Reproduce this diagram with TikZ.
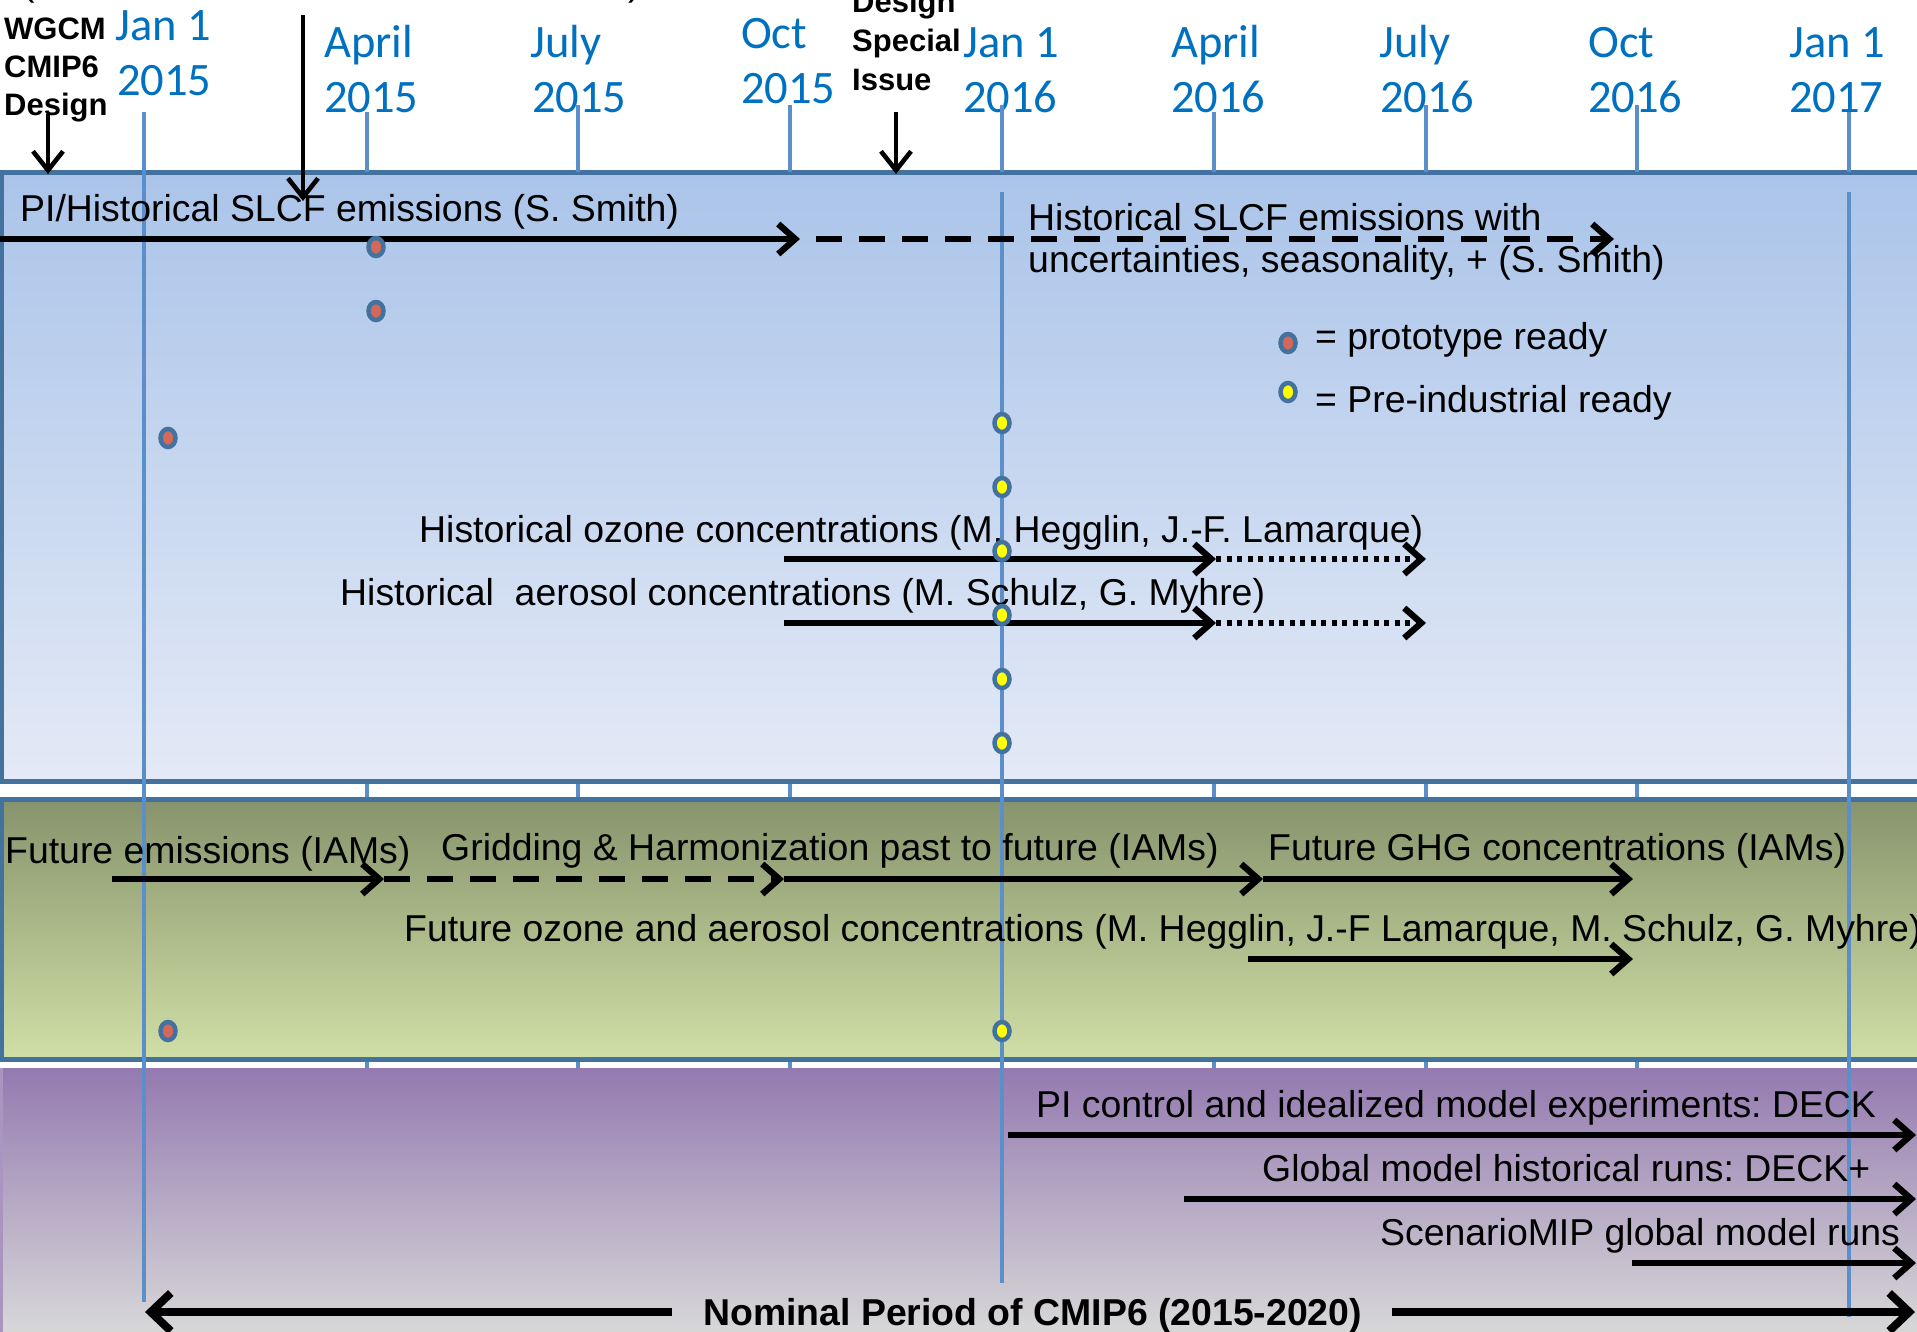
\documentclass[tikz,border=0pt]{standalone}
\usepackage{fontspec}
\setmainfont{Liberation Sans}
\newfontfamily\calibfont{Carlito}
\usetikzlibrary{arrows.meta,shapes.geometric}
\definecolor{dateblue}{HTML}{0070C0}
\definecolor{gridblue}{HTML}{5B8FC9}
\definecolor{frameblue}{HTML}{44729F}
\definecolor{pAtop}{HTML}{AAC4E9}
\definecolor{pAbot}{HTML}{E4EAF6}
\definecolor{pBtop}{HTML}{87936C}
\definecolor{pBbot}{HTML}{D0DFA6}
\definecolor{pCtop}{HTML}{947AB0}
\definecolor{pCmid}{HTML}{C3C2C5}
\definecolor{pCbot}{HTML}{D8D8D8}
\definecolor{dotred}{HTML}{D4695A}
\definecolor{dotyellow}{HTML}{FFFF00}
\frenchspacing
\begin{document}
\begin{tikzpicture}[x=1pt,y=-1pt,
  txt/.style={anchor=base west, inner sep=0pt, font=\fontsize{37.4}{44}\selectfont},
  boldtxt/.style={anchor=base west, inner sep=0pt, font=\bfseries\fontsize{37.4}{44}\selectfont},
  notetxt/.style={anchor=base west, inner sep=0pt, font=\bfseries\fontsize{31}{38}\selectfont},
  datetxt/.style={anchor=base west, inner sep=0pt, text=dateblue, font=\calibfont\fontsize{46.5}{55}\selectfont},
  gridline/.style={draw=gridblue, line width=3.2pt},
  arr/.style={line width=6.3pt, -{Straight Barb[length=17pt,width=30pt]}},
  bigarr/.style={line width=8pt, -{Straight Barb[length=20pt,width=38pt]}},
  dasharr/.style={arr, dash pattern=on 26pt off 17pt},
  dotarr/.style={arr, dash pattern=on 5pt off 5.5pt},
  pin/.style={line width=4.6pt, -{Straight Barb[length=19pt,width=30pt]}},
  dotbase/.style={ellipse, draw=frameblue, line width=4.5pt, minimum width=15pt, minimum height=18pt, inner sep=0pt},
  proto/.style={dotbase, fill=dotred},
  preind/.style={dotbase, fill=dotyellow},
]
\useasboundingbox (0,0) rectangle (1917,1331);
\fill[white] (0,0) rectangle (1917,1331);

% background tick lines
\foreach \n/\x/\yt in {a/367/112, b/578/105, c/790/105, d/1214/112, e/1426/105, f/1637/105, g/1002/105, h/1849/112}{
  \coordinate (tk\n1) at (\x,\yt);
  \coordinate (tk\n2) at (\x,1068);
  \draw[gridline] (tk\n1) -- (tk\n2);
}

% panels
\path[draw=frameblue, line width=5pt, top color=pAtop, bottom color=pAbot] (1,172.5) rectangle (1935,781.5);
\path[draw=frameblue, line width=5pt, top color=pBtop, bottom color=pBbot] (1,799) rectangle (1935,1059.5);
\path[top color=pCtop, middle color=pCmid, bottom color=pCbot] (0,1068) rectangle (1935,1334);
\draw[draw=pCtop!80!white, line width=3pt] (1.5,1068) -- (1.5,1334);

% date labels
\node[datetxt] (ja15a) at (115,40) {Jan 1};
\node[datetxt] (ja15b) at (117,95) {2015};
\node[datetxt] (ap15a) at (324,57) {April};
\node[datetxt] (ap15b) at (324,112) {2015};
\node[datetxt] (jl15a) at (530,57) {July};
\node[datetxt] (jl15b) at (532,112) {2015};
\node[datetxt] (oc15a) at (741,48) {Oct};
\node[datetxt] (oc15b) at (741,103) {2015};
\node[datetxt] (ja16a) at (963,57) {Jan 1};
\node[datetxt] (ja16b) at (963,112) {2016};
\node[datetxt] (ap16a) at (1171,57) {April};
\node[datetxt] (ap16b) at (1171,112) {2016};
\node[datetxt] (jl16a) at (1379,57) {July};
\node[datetxt] (jl16b) at (1380,112) {2016};
\node[datetxt] (oc16a) at (1588,57) {Oct};
\node[datetxt] (oc16b) at (1588,112) {2016};
\node[datetxt] (ja17a) at (1789,57) {Jan 1};
\node[datetxt] (ja17b) at (1789,112) {2017};

% long vertical lines
\coordinate (va1) at (144,112);  \coordinate (va2) at (144,1302);
\coordinate (vb1) at (1002,192); \coordinate (vb2) at (1002,1283);
\coordinate (vc1) at (1849,192); \coordinate (vc2) at (1849,1317);
\coordinate (vbt) at (1002,105); \coordinate (vbb) at (1002,172);
\coordinate (vct) at (1849,112); \coordinate (vcb) at (1849,172);
\draw[gridline] (va1) -- (va2);
\draw[gridline] (vb1) -- (vb2);
\draw[gridline] (vc1) -- (vc2);
\draw[gridline] (vbt) -- (vbb);
\draw[gridline] (vct) -- (vcb);
\draw[gridline] (tka1) -- (367,172);
\draw[gridline] (tkb1) -- (578,172);
\draw[gridline] (tkc1) -- (790,172);
\draw[gridline] (tkd1) -- (1214,172);
\draw[gridline] (tke1) -- (1426,172);
\draw[gridline] (tkf1) -- (1637,172);

% clipped line at the top
\node[txt] (topl) at (22,-5) {(};
\node[txt] (topr) at (628,-5) {)};

% annotations at the top
\node[notetxt] (wg1) at (4,39) {WGCM};
\node[notetxt] (wg2) at (4,77) {CMIP6};
\node[notetxt] (wg3) at (4,115) {Design};
\node[notetxt] (ds1) at (852,12) {Design};
\node[notetxt] (ds2) at (852,51) {Special};
\node[notetxt] (ds3) at (852,90) {Issue};
\coordinate (pa1) at (48,114); \coordinate (pa2) at (48,174);
\coordinate (pb1) at (303,15); \coordinate (pb2) at (303,201);
\coordinate (pc1) at (896,112); \coordinate (pc2) at (896,174);
\draw[pin] (pa1) -- (pa2);
\draw[pin] (pb1) -- (pb2);
\draw[pin] (pc1) -- (pc2);

% panel 1
\node[txt] (slcf) at (20,221) {PI/Historical SLCF emissions (S. Smith)};
\node[txt] (slcfa) at (1028,230) {Historical SLCF emissions with};
\node[txt] (slcfb) at (1028,272) {uncertainties, seasonality, + (S. Smith)};
\coordinate (s1) at (0,239); \coordinate (s2) at (800,239);
\coordinate (s3) at (816,239); \coordinate (s4) at (1614,239);
\draw[arr] (s1) -- (s2);
\draw[dasharr] (s3) -- (s4);

\node[proto] (r1) at (376,247) {};
\node[proto] (r2) at (376,311) {};
\node[proto] (r3) at (168,438) {};
\node[proto] (lr) at (1288,343) {};
\node[preind] (ly) at (1288,392) {};
\node[txt] (leg1) at (1315,349) {= prototype ready};
\node[txt] (leg2) at (1315,412) {= Pre-industrial ready};

\node[txt] (ozt) at (419,542) {Historical ozone concentrations (M. Hegglin, J.-F. Lamarque)};
\node[txt] (aet) at (340,605) {Historical~ aerosol concentrations (M. Schulz, G. Myhre)};
\coordinate (o1) at (784,559); \coordinate (o2) at (1216,559); \coordinate (o3) at (1426,559);
\coordinate (e1) at (784,623); \coordinate (e2) at (1216,623); \coordinate (e3) at (1426,623);
\draw[arr] (o1) -- (o2);
\draw[dotarr] (o2) -- (o3);
\draw[arr] (e1) -- (e2);
\draw[dotarr] (e2) -- (e3);

\foreach \i/\y in {1/423, 2/487, 3/551, 4/615, 5/679, 6/743}{
  \node[preind] (y\i) at (1002,\y) {};
}

% panel 2
\node[txt] (fe) at (5,863) {Future emissions (IAMs)};
\node[txt] (gh) at (441,860) {Gridding \& Harmonization past to future (IAMs)};
\node[txt] (fg) at (1268,860) {Future GHG concentrations (IAMs)};
\node[txt] (fo) at (404,941) {Future ozone and aerosol concentrations (M. Hegglin, J.-F Lamarque, M. Schulz, G. Myhre)};
\coordinate (f1) at (112,879); \coordinate (f2) at (384,879);
\coordinate (f3) at (784,879); \coordinate (f4) at (1263,879); \coordinate (f5) at (1633,879);
\draw[arr] (f1) -- (f2);
\draw[dasharr] (f2) -- (f3);
\draw[arr] (f3) -- (f4);
\draw[arr] (f4) -- (f5);
\coordinate (g1) at (1248,959); \coordinate (g2) at (1633,959);
\draw[arr] (g1) -- (g2);
\node[proto] (r4) at (168,1031) {};
\node[preind] (y7) at (1002,1031) {};

% panel 3
\node[txt] (dk) at (1036,1117) {PI control and idealized model experiments: DECK};
\node[txt] (hr) at (1262,1181) {Global model historical runs: DECK+};
\node[txt] (sm) at (1380,1245) {ScenarioMIP global model runs};
\coordinate (k1) at (1008,1135); \coordinate (k2) at (1916,1135);
\coordinate (h1) at (1184,1199); \coordinate (h2) at (1916,1199);
\coordinate (m1) at (1632,1263); \coordinate (m2) at (1916,1263);
\draw[arr] (k1) -- (k2);
\draw[arr] (h1) -- (h2);
\draw[arr] (m1) -- (m2);

\node[boldtxt] (nom) at (703,1325) {Nominal Period of CMIP6 (2015-2020)};
\coordinate (n1) at (672,1312); \coordinate (n2) at (145,1312);
\coordinate (n3) at (1392,1312); \coordinate (n4) at (1915,1312);
\draw[bigarr] (n1) -- (n2);
\draw[bigarr] (n3) -- (n4);
\end{tikzpicture}
\end{document}
